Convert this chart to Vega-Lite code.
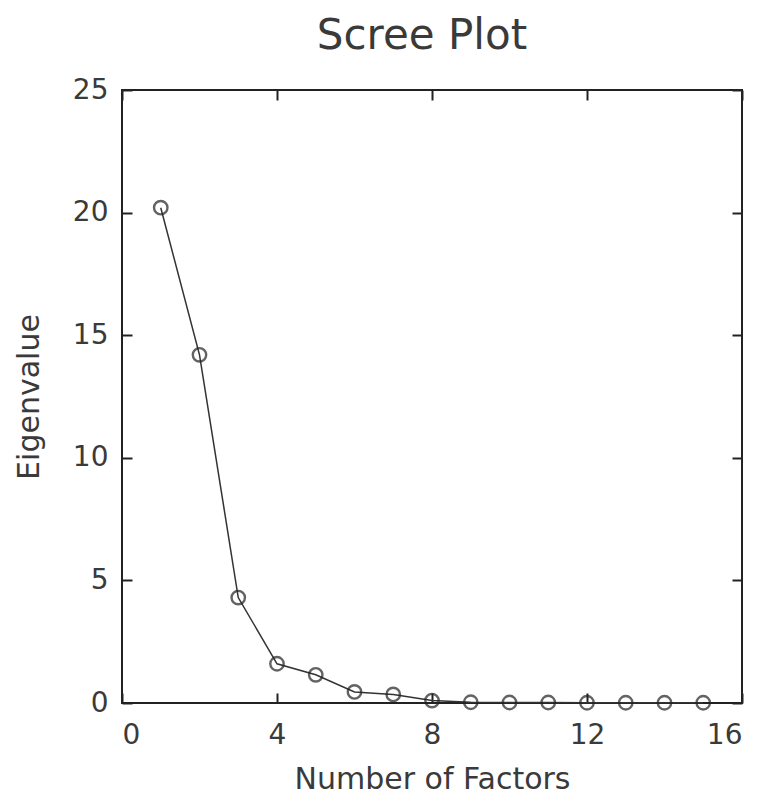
{
  "$schema": "https://vega.github.io/schema/vega-lite/v6.json",
  "autosize": "none",
  "width": 620,
  "height": 613,
  "padding": {"left": 122, "top": 90, "right": 26, "bottom": 97},
  "background": "white",
  "config": {
    "font": "DejaVu Sans",
    "view": {"stroke": "#222", "strokeWidth": 2},
    "axis": {
      "grid": false,
      "domain": false,
      "tickColor": "#222",
      "tickWidth": 2,
      "tickSize": -10,
      "labelFont": "DejaVu Sans",
      "labelFontSize": 28,
      "labelColor": "#3a3a3a",
      "titleFont": "DejaVu Sans",
      "titleFontSize": 30,
      "titleFontWeight": "normal",
      "titleColor": "#3a3a3a"
    }
  },
  "title": {
    "text": "Scree Plot",
    "fontSize": 42,
    "fontWeight": "normal",
    "color": "#3a3a3a",
    "font": "DejaVu Sans",
    "offset": 18,
    "dx": -10,
    "anchor": "middle"
  },
  "data": {
    "values": [
      {"factor": 1, "eigenvalue": 20.2},
      {"factor": 2, "eigenvalue": 14.2},
      {"factor": 3, "eigenvalue": 4.3},
      {"factor": 4, "eigenvalue": 1.6},
      {"factor": 5, "eigenvalue": 1.15},
      {"factor": 6, "eigenvalue": 0.45},
      {"factor": 7, "eigenvalue": 0.35},
      {"factor": 8, "eigenvalue": 0.1},
      {"factor": 9, "eigenvalue": 0.03},
      {"factor": 10, "eigenvalue": 0.02},
      {"factor": 11, "eigenvalue": 0.02},
      {"factor": 12, "eigenvalue": 0.01},
      {"factor": 13, "eigenvalue": 0.01},
      {"factor": 14, "eigenvalue": 0.01},
      {"factor": 15, "eigenvalue": 0.01}
    ]
  },
  "layer": [
    {
      "mark": {"type": "line", "color": "#333", "strokeWidth": 1.5},
      "encoding": {
        "x": {
          "field": "factor", "type": "quantitative",
          "scale": {"domain": [0, 16], "nice": false},
          "axis": {"values": [0, 4, 8, 12, 16], "title": "Number of Factors", "labelPadding": 28, "titlePadding": 15}
        },
        "y": {
          "field": "eigenvalue", "type": "quantitative",
          "scale": {"domain": [0, 25], "nice": false},
          "axis": {"values": [0, 5, 10, 15, 20, 25], "title": "Eigenvalue", "labelPadding": 24, "titlePadding": 28}
        }
      }
    },
    {
      "mark": {"type": "point", "shape": "circle", "filled": false, "color": "#222", "strokeWidth": 2.4, "size": 180},
      "encoding": {
        "x": {"field": "factor", "type": "quantitative", "axis": {"orient": "top", "values": [0, 4, 8, 12, 16], "labels": false, "title": null}},
        "y": {"field": "eigenvalue", "type": "quantitative", "axis": {"orient": "right", "values": [0, 5, 10, 15, 20, 25], "labels": false, "title": null}}
      }
    }
  ],
  "resolve": {"axis": {"x": "independent", "y": "independent"}}
}
